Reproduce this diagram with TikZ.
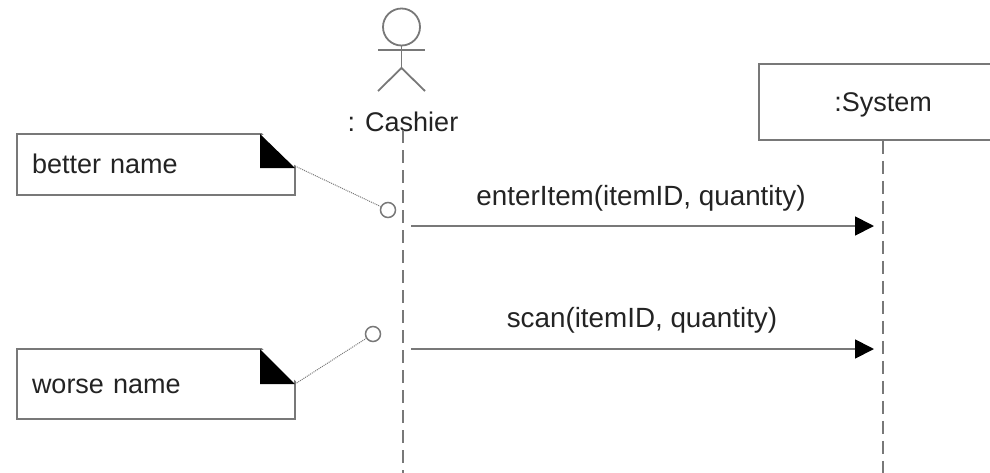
\documentclass[tikz,border=0pt]{standalone}
\usepackage{fontspec}
\setmainfont{Liberation Sans}
\usetikzlibrary{arrows.meta}
\definecolor{linecolor}{RGB}{120, 120, 120}
\definecolor{textcolor}{RGB}{35, 35, 35}
\tikzstyle{label} = [text=textcolor, font=\fontsize{27}{32}\selectfont, inner sep=0pt]
\tikzstyle{msglabel} = [label, font=\fontsize{27.8}{32}\selectfont]
\tikzstyle{objectbox} = [label, rectangle, minimum width=248pt, minimum height=76pt,
                         text height=18pt, text depth=0pt,
                         draw=linecolor, line width=1.8pt]
\tikzstyle{notebox} = [label, rectangle, minimum width=278pt, text width=248pt, align=left,
                       text height=18pt, text depth=0pt,
                       draw=linecolor, line width=1.8pt]
\tikzstyle{lifeline} = [draw=linecolor, line width=2pt, dash pattern=on 13pt off 7pt]
\tikzstyle{link} = [draw=linecolor, line width=1pt, densely dotted]
\tikzstyle{endcircle} = [circle, draw=linecolor, fill=white, line width=1.5pt,
                         minimum size=15pt, inner sep=0pt]
\tikzstyle{arrow} = [draw=linecolor, line width=1.8pt, -{Triangle[length=19pt,width=19pt,color=black]}]
\begin{document}
\begin{tikzpicture}[x=1pt,y=-1pt]
        \clip (0,0) rectangle (990,472);
        
        % actor
        \node (Head) [circle, draw=linecolor, line width=1.8pt, minimum size=37pt, inner sep=0pt] at (401.5,27) {};
        \coordinate (Hip) at (401.5,68);
        \coordinate (ArmL) at (378,50);
        \coordinate (ArmR) at (425,50);
        \coordinate (FootL) at (378,91);
        \coordinate (FootR) at (425,91);
        \draw [linecolor, line width=1.8pt] (Head) -- (Hip);
        \draw [linecolor, line width=1.8pt] (ArmL) -- (ArmR);
        \draw [linecolor, line width=1.8pt] (FootL) -- (Hip) -- (FootR);
        \node (Cashier) [label] at (403,122) {: Cashier};
        
        \node (System) [objectbox] at (883,102) {:System};
        
        % lifelines
        \coordinate (CashierTop) at (403,130);
        \coordinate (CashierEnd) at (403,483);
        \coordinate (SystemEnd) at (883,483);
        \draw [lifeline] (CashierTop) -- (CashierEnd);
        \draw [lifeline] (System.south) -- (SystemEnd);
        
        % messages
        \coordinate (Enter1) at (411,226);
        \coordinate (Enter2) at (874,226);
        \coordinate (Scan1) at (411,349);
        \coordinate (Scan2) at (874,349);
        \draw [arrow] (Enter1) -- (Enter2);
        \draw [arrow] (Scan1) -- (Scan2);
        \node (EnterLabel) [msglabel] at (641,198) {enterItem(itemID, quantity)};
        \node (ScanLabel) [msglabel] at (642,320) {scan(itemID, quantity)};
        
        % notes
        \node (Better) [notebox, minimum height=61pt] at (156,164.5) {better name};
        \node (Worse) [notebox, minimum height=70pt] at (156,384) {worse name};
        \fill [white] (Better.north east) ++(1,-1) -- ++(-36,0) -- ++(36,35) -- cycle;
        \fill [white] (Worse.north east) ++(1,-1) -- ++(-36,0) -- ++(36,35) -- cycle;
        \fill [black] (260,134) -- (295,168) -- (260,168) -- cycle;
        \fill [black] (260,349) -- (295,384) -- (260,384) -- cycle;
        
        \coordinate (BetterTip) at (295,166);
        \coordinate (WorseTip) at (295,384);
        \node (BetterEnd) [endcircle] at (388,210) {};
        \node (WorseEnd) [endcircle] at (373,334) {};
        \draw [link] (BetterTip) -- (BetterEnd);
        \draw [link] (WorseTip) -- (WorseEnd);
    
    \end{tikzpicture}
\end{document}
